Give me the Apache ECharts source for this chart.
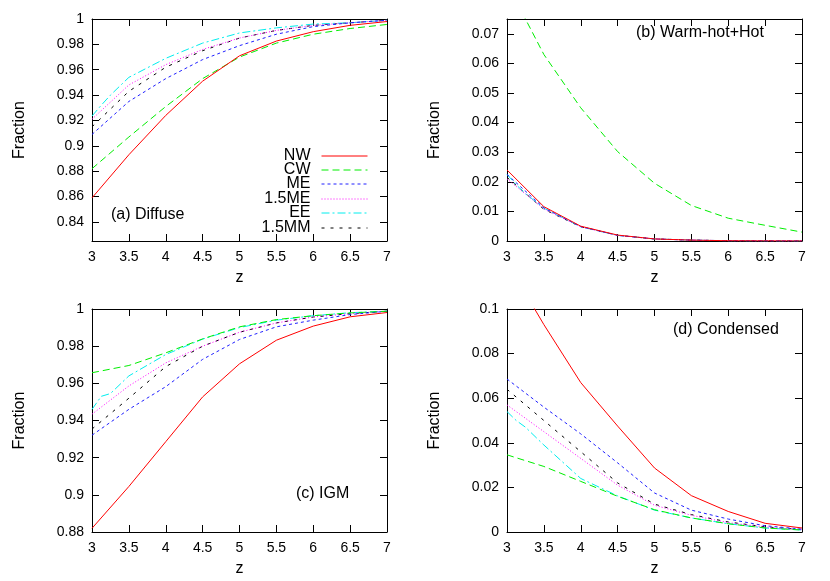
<!DOCTYPE html>
<html>
<head>
<meta charset="utf-8">
<script src="https://cdn.jsdelivr.net/npm/echarts@6/dist/echarts.min.js"></script>
<style>html,body{margin:0;padding:0;background:#fff;}#chart{width:830px;height:581px;}</style>
</head>
<body>
<div id="chart"></div>
<script>
// ---- data ----
const names = ['NW', 'CW', 'ME', '1.5ME', 'EE', '1.5MM'];
const z = [3, 3.5, 4, 4.5, 5, 5.5, 6, 6.5, 7];
const zEE = [3, 3.125, 3.25, 3.5, 4, 4.5, 5, 5.5, 6, 6.5, 7];

// (a) Diffuse
const diffNW   = [0.859, 0.893, 0.924, 0.951, 0.971, 0.9826, 0.9900, 0.9950, 0.998];
const diffCW   = [0.882, 0.907, 0.931, 0.953, 0.970, 0.9810, 0.9880, 0.9925, 0.9957];
const diffME   = [0.909, 0.935, 0.953, 0.968, 0.979, 0.9880, 0.9940, 0.9970, 0.999];
const diff15ME = [0.921, 0.948, 0.964, 0.976, 0.985, 0.9910, 0.9950, 0.9970, 0.999];
const diffEE   = [0.9235, 0.932, 0.940, 0.954, 0.969, 0.981, 0.989, 0.993, 0.996, 0.997, 0.999];
const diff15MM = [0.915, 0.943, 0.962, 0.975, 0.985, 0.9910, 0.9950, 0.9970, 0.999];

// (b) Warm-hot+Hot
const hotNW   = [0.0240, 0.0116, 0.0050, 0.0020, 0.0007, 0.0003, 0.0001, 0.00005, 0.00002];
const hotCW   = [0.0870, 0.0630, 0.0450, 0.0302, 0.0195, 0.0120, 0.0077, 0.0053, 0.0030];
const hotME   = [0.0225, 0.0112, 0.0049, 0.0019, 0.0007, 0.0003, 0.0001, 0.00005, 0.00002];
const hot15ME = [0.0210, 0.0108, 0.0048, 0.0019, 0.0007, 0.0003, 0.0001, 0.00005, 0.00002];
const hotEE   = [0.0225, 0.0190, 0.0160, 0.0111, 0.0048, 0.0019, 0.0007, 0.0003, 0.0001, 0.00005, 0.00002];
const hot15MM = [0.0215, 0.0107, 0.0048, 0.0019, 0.0007, 0.0003, 0.0001, 0.00005, 0.00002];

// (c) IGM
const igmNW   = [0.882, 0.9045, 0.9286, 0.9527, 0.9705, 0.9832, 0.9908, 0.9958, 0.9981];
const igmCW   = [0.9657, 0.9696, 0.9764, 0.9839, 0.9904, 0.9943, 0.9964, 0.9979, 0.9988];
const igmME   = [0.9321, 0.9460, 0.9582, 0.9729, 0.9836, 0.9904, 0.9940, 0.9970, 0.9988];
const igm15ME = [0.9434, 0.9586, 0.9710, 0.9800, 0.9875, 0.9925, 0.9957, 0.9975, 0.9988];
const igmEE   = [0.9460, 0.9530, 0.9545, 0.9640, 0.9755, 0.9838, 0.9900, 0.9940, 0.9964, 0.9980, 0.9988];
const igm15MM = [0.9354, 0.9520, 0.9690, 0.9800, 0.9875, 0.9925, 0.9957, 0.9975, 0.9988];

// (d) Condensed
const conNW   = [0.121, 0.093, 0.067, 0.0475, 0.0287, 0.0163, 0.0092, 0.0039, 0.0018];
const conCW   = [0.0346, 0.0294, 0.0227, 0.0160, 0.0100, 0.0063, 0.0037, 0.0018, 0.0009];
const conME   = [0.0686, 0.0560, 0.0440, 0.0310, 0.0175, 0.0098, 0.0058, 0.0028, 0.0013];
const con15ME = [0.0570, 0.0450, 0.0330, 0.0210, 0.0120, 0.0075, 0.0042, 0.0022, 0.0010];
const conEE   = [0.0540, 0.0500, 0.0470, 0.0390, 0.0240, 0.0162, 0.0098, 0.0063, 0.0037, 0.0018, 0.0009];
const con15MM = [0.0640, 0.0500, 0.0360, 0.0220, 0.0125, 0.0078, 0.0045, 0.0023, 0.0011];

// tick labels
const yTicksA = [0.84, 0.86, 0.88, 0.9, 0.92, 0.94, 0.96, 0.98, 1];
const yTicksB = [0, 0.01, 0.02, 0.03, 0.04, 0.05, 0.06, 0.07];
const yTicksC = [0.88, 0.9, 0.92, 0.94, 0.96, 0.98, 1];
const yTicksD = [0, 0.02, 0.04, 0.06, 0.08, 0.1];
const panelTitles = ['(a) Diffuse', '(b) Warm-hot+Hot', '(c) IGM', '(d) Condensed'];

// ---- layout / style ----
const FONT = 'Liberation Sans, Arial, Helvetica, sans-serif';
const styles = [
  { color: '#ff0000', type: 'solid' },
  { color: '#00ee00', type: [7, 4] },
  { color: '#2020ff', type: [3, 3] },
  { color: '#ff00ff', type: [1, 2] },
  { color: '#00eeee', type: [8, 3, 2, 3] },
  { color: '#000000', type: [3, 6] }
];
const panels = [
  { grid: { left: 92, right: 443, top: 19, bottom: 340 }, yMin: 0.825, yMax: 1, ticks: yTicksA,
    data: [diffNW, diffCW, diffME, diff15ME, diffEE, diff15MM] },
  { grid: { left: 507, right: 28, top: 19, bottom: 340 }, yMin: 0, yMax: 0.075, ticks: yTicksB,
    data: [hotNW, hotCW, hotME, hot15ME, hotEE, hot15MM] },
  { grid: { left: 92, right: 443, top: 309, bottom: 49 }, yMin: 0.88, yMax: 1, ticks: yTicksC,
    data: [igmNW, igmCW, igmME, igm15ME, igmEE, igm15MM] },
  { grid: { left: 507, right: 28, top: 309, bottom: 49 }, yMin: 0, yMax: 0.1, ticks: yTicksD,
    data: [conNW, conCW, conME, con15ME, conEE, con15MM] }
];
const titlePos = [
  { left: 111, top: 207 },
  { left: 636, top: 25 },
  { left: 296, top: 486 },
  { left: 673, top: 322 }
];
const legendRows = [148, 162, 176, 191, 205, 220];

const grids = [], xAxes = [], yAxes = [], series = [], titles = [], legends = [];
const lineCol = '#000';
panels.forEach((p, i) => {
  grids.push(Object.assign({ containLabel: false }, p.grid));
  const tickStyle = { show: true, inside: true, length: 7, lineStyle: { color: lineCol, width: 1 } };
  xAxes.push({
    type: 'value', gridIndex: i, position: 'bottom', min: 3, max: 7, interval: 0.5,
    name: 'z', nameLocation: 'middle', nameGap: 29,
    nameTextStyle: { fontSize: 16, color: '#000', fontFamily: FONT },
    axisLine: { show: true, onZero: false, lineStyle: { color: lineCol, width: 1 } },
    axisTick: tickStyle, splitLine: { show: false },
    axisLabel: { fontSize: 14, color: '#000', fontFamily: FONT, margin: 9 }
  });
  xAxes.push({
    type: 'value', gridIndex: i, position: 'top', min: 3, max: 7, interval: 0.5,
    axisLine: { show: true, onZero: false, lineStyle: { color: lineCol, width: 1 } },
    axisTick: tickStyle, splitLine: { show: false }, axisLabel: { show: false }
  });
  yAxes.push({
    type: 'value', gridIndex: i, position: 'left', min: p.yMin, max: p.yMax,
    name: 'Fraction', nameLocation: 'middle', nameGap: 64,
    nameTextStyle: { fontSize: 16, color: '#000', fontFamily: FONT },
    axisLine: { show: true, onZero: false, lineStyle: { color: lineCol, width: 1 } },
    axisTick: Object.assign({ customValues: p.ticks }, tickStyle),
    splitLine: { show: false },
    axisLabel: { customValues: p.ticks, fontSize: 14, color: '#000', fontFamily: FONT, margin: 8 }
  });
  yAxes.push({
    type: 'value', gridIndex: i, position: 'right', min: p.yMin, max: p.yMax,
    axisLine: { show: true, onZero: false, lineStyle: { color: lineCol, width: 1 } },
    axisTick: Object.assign({ customValues: p.ticks }, tickStyle),
    splitLine: { show: false }, axisLabel: { show: false }
  });
  p.data.forEach((vals, k) => {
    const xs = names[k] === 'EE' ? zEE : z;
    series.push({
      type: 'line', name: names[k], xAxisIndex: 2 * i, yAxisIndex: 2 * i,
      data: xs.map((x, j) => [x, vals[j]]),
      symbol: 'none', showSymbol: false, clip: true, silent: true, animation: false,
      lineStyle: { color: styles[k].color, type: styles[k].type, width: 1 },
      itemStyle: { color: styles[k].color },
      z: 10 - k
    });
  });
  titles.push(Object.assign({
    text: panelTitles[i],
    textStyle: { fontSize: 16, fontWeight: 'normal', color: '#000', fontFamily: FONT },
    padding: 0
  }, titlePos[i]));
});

names.forEach((n, k) => {
  legends.push({
    data: [n], right: 462, top: legendRows[k], orient: 'vertical', align: 'right',
    itemWidth: 46, itemHeight: 14, padding: 0, selectedMode: false,
    itemStyle: { color: 'rgba(0,0,0,0)', borderColor: 'rgba(0,0,0,0)', borderWidth: 0 },
    lineStyle: { width: 1 },
    textStyle: { fontSize: 16, color: '#000', fontFamily: FONT, padding: [0, 6, 0, 0] }
  });
});

const chart = echarts.init(document.getElementById('chart'), null, { renderer: 'canvas' });
chart.setOption({
  animation: false,
  backgroundColor: '#fff',
  title: titles,
  legend: legends,
  grid: grids,
  xAxis: xAxes,
  yAxis: yAxes,
  series: series
});
</script>
</body>
</html>
